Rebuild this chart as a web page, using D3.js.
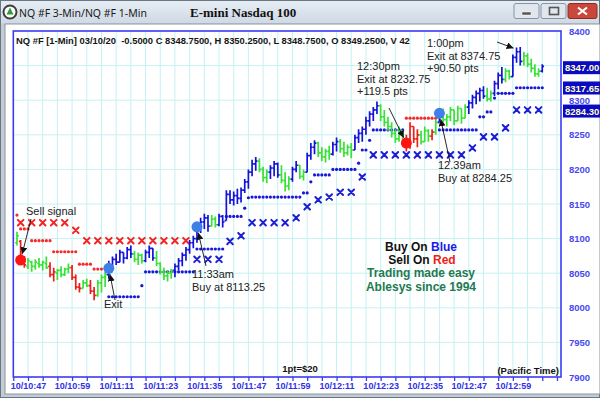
<!DOCTYPE html>
<html>
<head>
<meta charset="utf-8">
<script src="https://cdn.jsdelivr.net/npm/d3@7"></script>
<style>
  body { margin: 0; background: #fff; }
  svg { display: block; font-family: "Liberation Sans", Arial, sans-serif; }
</style>
</head>
<body>
<svg id="chart" width="600" height="398"></svg>
<script>
// ---- data ----
var firstBarMinute = 10 * 60 + 44;   // 1-min bars, first one at 10:44

// [open, high, low, close] per 1-min bar
var bars = [
  [8094,8110,8090,8104],[8096,8098,8068,8072],[8072,8075,8058,8062],[8060,8072,8056,8068],
  [8066,8068,8052,8060],[8060,8070,8055,8066],[8064,8072,8058,8062],[8062,8068,8054,8066],
  [8064,8074,8056,8058],[8060,8066,8044,8048],[8048,8058,8038,8052],[8050,8056,8040,8054],
  [8054,8060,8044,8048],[8048,8058,8046,8056],[8056,8064,8050,8058],[8058,8062,8040,8044],
  [8044,8048,8026,8030],[8030,8036,8022,8028],[8028,8040,8028,8036],[8036,8042,8030,8032],
  [8032,8040,8020,8024],[8024,8030,8011,8018],[8018,8040,8016,8036],[8036,8048,8022,8044],
  [8044,8052,8030,8048],[8048,8068,8042,8060],[8060,8074,8056,8070],[8070,8078,8062,8066],
  [8066,8084,8066,8080],[8080,8080,8064,8072],[8072,8088,8070,8084],[8084,8090,8072,8078],
  [8078,8082,8066,8070],[8070,8080,8062,8076],[8076,8078,8064,8068],[8068,8084,8066,8080],
  [8080,8090,8072,8086],[8086,8086,8068,8072],[8072,8082,8060,8064],[8064,8066,8048,8052],
  [8052,8058,8040,8046],[8046,8054,8038,8050],[8050,8056,8042,8054],[8054,8064,8044,8060],
  [8060,8072,8054,8068],[8068,8080,8060,8076],[8076,8088,8068,8084],[8084,8098,8078,8094],
  [8094,8104,8086,8100],[8100,8118,8094,8114],[8114,8130,8108,8124],[8124,8136,8114,8130],
  [8130,8134,8110,8118],[8118,8134,8118,8128],[8128,8132,8116,8120],[8120,8136,8118,8132],
  [8132,8134,8116,8124],[8126,8170,8126,8164],[8164,8170,8150,8156],[8156,8168,8148,8162],
  [8162,8172,8150,8158],[8158,8174,8152,8170],[8170,8186,8166,8182],[8182,8200,8172,8196],
  [8196,8214,8190,8208],[8208,8218,8198,8212],[8212,8216,8196,8200],[8200,8204,8182,8188],
  [8188,8200,8180,8196],[8196,8206,8186,8202],[8202,8212,8190,8208],[8208,8210,8188,8192],
  [8192,8206,8180,8184],[8184,8196,8168,8176],[8176,8190,8170,8186],[8186,8204,8182,8200],
  [8200,8212,8196,8206],[8206,8206,8186,8190],[8190,8200,8184,8196],[8196,8224,8196,8220],
  [8220,8238,8214,8232],[8232,8242,8222,8238],[8238,8240,8218,8224],[8224,8232,8212,8218],
  [8218,8230,8210,8226],[8226,8234,8214,8222],[8222,8240,8220,8236],[8236,8246,8226,8240],
  [8240,8244,8224,8230],[8230,8240,8218,8224],[8224,8236,8220,8232],[8232,8238,8216,8228],
  [8228,8250,8228,8246],[8246,8258,8238,8252],[8252,8262,8240,8258],[8258,8276,8250,8270],
  [8270,8284,8262,8280],[8280,8290,8270,8286],[8286,8298,8280,8292],[8292,8294,8270,8276],
  [8276,8286,8262,8268],[8268,8276,8256,8262],[8262,8268,8246,8252],[8252,8258,8238,8244],
  [8244,8262,8240,8256],[8256,8256,8236,8240],[8240,8250,8226,8234],[8234,8268,8230,8262],
  [8262,8262,8238,8244],[8244,8258,8232,8250],[8250,8256,8236,8240],[8240,8262,8240,8256],
  [8256,8258,8240,8248],[8248,8258,8242,8254],[8254,8272,8250,8268],[8268,8286,8268,8282],
  [8282,8288,8268,8272],[8272,8280,8262,8276],[8276,8290,8270,8286],[8286,8286,8264,8270],
  [8270,8292,8270,8288],[8288,8288,8266,8274],[8274,8294,8274,8290],[8290,8300,8280,8296],
  [8296,8308,8288,8304],[8304,8314,8294,8310],[8310,8318,8298,8314],[8314,8320,8302,8306],
  [8306,8318,8298,8302],[8302,8314,8298,8310],[8310,8328,8306,8324],[8324,8340,8316,8336],
  [8336,8348,8324,8330],[8330,8346,8326,8342],[8342,8344,8330,8334],[8334,8366,8334,8362],
  [8362,8376,8354,8370],[8370,8377,8350,8356],[8356,8370,8350,8364],[8364,8368,8348,8352],
  [8352,8360,8340,8346],[8346,8352,8334,8338],[8338,8346,8334,8342],[8342,8352,8340,8349]
];
// B = blue, G = green, R = red, one letter per bar
var barColors = ("GRR" + "GGGGGG" + "RR" + "GGGG" + "RRR" + "GG" + "RR" + "GGG" + "BBBBBBB" +
  "GGG" + "BBB" + "GGGGG" + "BBBBBBBBBB" + "GG" + "BBBBBBBBBBB" + "GGG" + "BBB" + "GGG" + "BB" +
  "GG" + "BBB" + "GGGG" + "BB" + "GGGG" + "BBBBBBB" + "GGGGGGG" + "RRRR" + "GGG" + "R" + "G" + "B" +
  "GGGGGGG" + "BBBBB" + "GG" + "BBB" + "GG" + "BBB" + "GGGGG" + "B").split("");

// 1-min trailing stops: [first bar, last bar, price]
var redDotRuns = [[0,0,8134],[1,3,8114],[4,9,8097],[10,16,8081],[17,20,8063],[21,23,8056],[106,114,8274]];
var blueDotRuns = [[25,33,8016],[34,34,8032],[35,48,8052],[49,56,8085],[57,61,8132],[62,62,8144],
  [63,63,8159],[64,77,8160],[78,79,8166],[80,80,8182],[81,85,8192],[86,92,8200],[93,93,8209],
  [94,95,8228],[96,96,8242],[97,105,8257],[115,125,8257],[126,127,8276],[128,129,8283],
  [130,130,8303],[131,135,8310],[136,143,8318]];

// 3-min stops (X marks); first X on bar 1, then every 3rd bar
var redXStops = [8123,8123,8123,8123,8123,8112,8097,8097,8097,8097,8097,8097,8097,8097,8097,8097];
var blueXStops = [8070,8070,8070,8096,8104,8123,8123,8123,8123,8130,8146,8156,8160,8167,8167,8189,
  8221,8221,8221,8221,8221,8221,8221,8221,8221,8231,8247,8247,8260,8286,8286,8286];

// signal dots
var signalBars   = [1, 25, 49, 106, 115];
var signalPrices = [8069, 8057, 8117, 8238, 8281];
var signalKinds  = ["sell", "buy", "buy", "sell", "buy"];

var lastValues = ["8347.00", "8317.65", "8284.30"];
var priceTicks = [7900, 7950, 8000, 8050, 8100, 8150, 8200, 8250, 8300, 8350, 8400];
var hiddenTicks = [8350];   // covered by the last-value box

// ---- layout ----
var svg = d3.select("#chart");
var W = 600, H = 398;
var plot = { left: 13.3, top: 31, right: 561, bottom: 377 };

var x = d3.scaleLinear().domain([10 * 60 + 43, 10 * 60 + 43 + 149.1]).range([plot.left, plot.right]);
var y = d3.scaleLinear().domain([7900, 8400]).range([plot.bottom, plot.top]);
var barX = function(i) { return x(firstBarMinute + i); };

var BLUE = "#1212dc", GREEN = "#36e236", RED = "#f01c1c";
var colorOf = { B: BLUE, G: GREEN, R: RED };

var defs = svg.append("defs");
var grad = defs.append("linearGradient").attr("id", "tb").attr("x1", 0).attr("y1", 0).attr("x2", 0).attr("y2", 1);
grad.append("stop").attr("offset", "0%").attr("stop-color", "#e6edf4");
grad.append("stop").attr("offset", "100%").attr("stop-color", "#cfd9e4");
defs.append("clipPath").attr("id", "plotclip").append("rect")
  .attr("x", plot.left).attr("y", plot.top)
  .attr("width", plot.right - plot.left).attr("height", plot.bottom - plot.top);
defs.append("marker").attr("id", "arrow")
  .attr("viewBox", "0 0 8 8").attr("refX", 8).attr("refY", 4)
  .attr("markerWidth", 7).attr("markerHeight", 7).attr("markerUnits", "userSpaceOnUse")
  .attr("orient", "auto")
  .append("path").attr("d", "M0,0 L8,4 L0,8 z").attr("fill", "#111");

// window frame
svg.append("rect").attr("width", W).attr("height", H).attr("fill", "#c3ccd6");
svg.append("rect").attr("x", 0.5).attr("y", 0.5).attr("width", W - 1).attr("height", 23)
  .attr("fill", "url(#tb)");
svg.append("rect").attr("x", 0.5).attr("y", 0.5).attr("width", W - 1).attr("height", H - 1)
  .attr("fill", "none").attr("stroke", "#6a7682");
svg.append("rect").attr("x", 5).attr("y", 24).attr("width", W - 5).attr("height", 370)
  .attr("fill", "#fff").attr("stroke", "#8b959f");

// window icon + title
svg.append("circle").attr("cx", 10).attr("cy", 12).attr("r", 6.5).attr("fill", "#fff")
  .attr("stroke", "#3d3d3d").attr("stroke-width", 2);
svg.append("path").attr("d", "M10,7.5 L13.5,14.5 L6.5,14.5 Z").attr("fill", "#2f9a3c");
svg.append("text").attr("x", 19).attr("y", 16.5).attr("font-family", "'Noto Sans', sans-serif")
  .attr("font-size", 10.5).attr("fill", "#1a1a1a").text("NQ #F 3-Min/NQ #F 1-Min");
svg.append("text").attr("x", 190).attr("y", 17).attr("font-family", "'Liberation Serif', serif")
  .attr("font-weight", "bold").attr("font-size", 13).attr("fill", "#111").text("E-mini Nasdaq 100");

// window buttons
[514, 541].forEach(function(bx) {
  svg.append("rect").attr("x", bx).attr("y", 3.5).attr("width", 25).attr("height", 15).attr("rx", 2)
    .attr("fill", "#dfe6ee").attr("stroke", "#8593a3");
});
svg.append("rect").attr("x", 522).attr("y", 12).attr("width", 9).attr("height", 3).attr("fill", "#555")
  .attr("stroke", "#fff").attr("stroke-width", 0.5);
svg.append("rect").attr("x", 549.5).attr("y", 7.5).attr("width", 9).attr("height", 7).attr("fill", "none")
  .attr("stroke", "#555").attr("stroke-width", 1.6);
svg.append("rect").attr("x", 568).attr("y", 3.5).attr("width", 29).attr("height", 15).attr("rx", 2)
  .attr("fill", "#c9483b").attr("stroke", "#8e2c22");
svg.append("path").attr("d", "M578,7.5 L587,14.5 M587,7.5 L578,14.5")
  .attr("stroke", "#fff").attr("stroke-width", 2.2);

// ---- plot ----
var gridMinutes = d3.range(10 * 60 + 47, x.domain()[1], 4);
var grid = svg.append("g").attr("stroke", "#c4f2f2").attr("stroke-width", 1);
grid.selectAll("line.v").data(gridMinutes).enter().append("line")
  .attr("x1", function(d) { return x(d); }).attr("x2", function(d) { return x(d); })
  .attr("y1", plot.top).attr("y2", plot.bottom);
grid.selectAll("line.h").data(priceTicks.slice(1, -1)).enter().append("line")
  .attr("x1", plot.left).attr("x2", plot.right)
  .attr("y1", function(d) { return y(d); }).attr("y2", function(d) { return y(d); });

svg.append("rect").attr("x", plot.left).attr("y", plot.top)
  .attr("width", plot.right - plot.left).attr("height", plot.bottom - plot.top)
  .attr("fill", "none").attr("stroke", "#3a3af5").attr("stroke-width", 1.6);

var inner = svg.append("g").attr("clip-path", "url(#plotclip)");

// trailing-stop dots
function expandRuns(runs) {
  var pts = [];
  runs.forEach(function(r) { for (var i = r[0]; i <= r[1]; i++) pts.push([i, r[2]]); });
  return pts;
}
inner.append("g").selectAll("circle").data(expandRuns(redDotRuns)).enter().append("circle")
  .attr("cx", function(d) { return barX(d[0]); }).attr("cy", function(d) { return y(d[1]); })
  .attr("r", 1.6).attr("fill", "#f52a2a");
inner.append("g").selectAll("circle").data(expandRuns(blueDotRuns)).enter().append("circle")
  .attr("cx", function(d) { return barX(d[0]); }).attr("cy", function(d) { return y(d[1]); })
  .attr("r", 1.6).attr("fill", "#1818d8");

// 3-min X stops
function drawX(values, firstK, color) {
  inner.append("g").attr("stroke", color).attr("stroke-width", 2).attr("stroke-linecap", "round")
    .selectAll("path").data(values).enter().append("path")
    .attr("d", function(d, k) {
      var cx = barX(1 + 3 * (firstK + k)), cy = y(d), s = 2.8;
      return "M" + (cx - s) + "," + (cy - s) + "L" + (cx + s) + "," + (cy + s) +
             "M" + (cx + s) + "," + (cy - s) + "L" + (cx - s) + "," + (cy + s);
    });
}
drawX(redXStops, 0, "#f22424");
drawX(blueXStops, redXStops.length, "#1e1ed2");

// OHLC bars
inner.append("g").attr("stroke-width", 1.7).selectAll("path").data(bars).enter().append("path")
  .attr("stroke", function(d, i) { return colorOf[barColors[i]]; })
  .attr("fill", "none")
  .attr("d", function(d, i) {
    var cx = barX(i);
    return "M" + cx + "," + y(d[1]) + "V" + y(d[2]) +
           "M" + (cx - 1.8) + "," + y(d[0]) + "H" + cx +
           "M" + cx + "," + y(d[3]) + "H" + (cx + 1.8);
  });

// signal dots
inner.append("g").selectAll("circle").data(signalBars).enter().append("circle")
  .attr("cx", function(d) { return barX(d); })
  .attr("cy", function(d, i) { return y(signalPrices[i]); })
  .attr("r", 5.5)
  .attr("fill", function(d, i) { return signalKinds[i] === "sell" ? "#ff1414" : "#3f80e6"; });

// annotations
var notes = [
  { lines: ["Sell signal"], x: 26, y: 215, from: [31, 219], sig: 0 },
  { lines: ["Exit"], x: 104, y: 308, from: [115, 300], sig: 1 },
  { lines: ["11:33am", "Buy at 8113.25"], x: 192, y: 278, from: [206, 266], sig: 2 },
  { lines: ["12:30pm", "Exit at 8232.75", "+119.5 pts"], x: 357, y: 70, from: [389, 108], sig: 3 },
  { lines: ["12.39am", "Buy at 8284.25"], x: 438, y: 169, from: [450, 162], sig: 4 },
  { lines: ["1:00pm", "Exit at 8374.75", "+90.50 pts"], x: 427, y: 47, from: [497, 42], bar: 136, price: 8374.75 }
];
var noteG = svg.append("g");
notes.forEach(function(n) {
  n.lines.forEach(function(t, k) {
    noteG.append("text").attr("x", n.x).attr("y", n.y + k * 12.6)
      .attr("font-size", 11).attr("fill", "#222").text(t);
  });
  var tx, ty, r;
  if (n.sig !== undefined) {
    tx = barX(signalBars[n.sig]); ty = y(signalPrices[n.sig]); r = 6;
  } else {
    tx = barX(n.bar) - 2; ty = y(n.price); r = 1;
  }
  var dx = tx - n.from[0], dy = ty - n.from[1], len = Math.sqrt(dx * dx + dy * dy);
  noteG.append("line").attr("x1", n.from[0]).attr("y1", n.from[1])
    .attr("x2", tx - dx / len * r).attr("y2", ty - dy / len * r)
    .attr("stroke", "#111").attr("stroke-width", 0.9).attr("marker-end", "url(#arrow)");
});

// legend
var leg = svg.append("g").attr("font-weight", "bold").attr("font-size", 12).attr("text-anchor", "middle");
var t1 = leg.append("text").attr("x", 421).attr("y", 251);
t1.append("tspan").attr("fill", "#111").text("Buy On ");
t1.append("tspan").attr("fill", "#1a1ae6").text("Blue");
var t2 = leg.append("text").attr("x", 422).attr("y", 264);
t2.append("tspan").attr("fill", "#111").text("Sell On ");
t2.append("tspan").attr("fill", "#f01c1c").text("Red");
leg.append("text").attr("x", 421).attr("y", 277).attr("fill", "#1d7a52").text("Trading made easy");
leg.append("text").attr("x", 421).attr("y", 290.5).attr("fill", "#1d7a52").text("Ablesys since 1994");

// axes
var tickMinutes = d3.range(10 * 60 + 43, x.domain()[1], 4);
var lastLabel = 12 * 60 + 59;
var fmt = function(m) {
  if ((m - (10 * 60 + 47)) % 12 !== 0 || m > lastLabel) return "";
  var h = Math.floor(m / 60), mm = m % 60;
  return "10/" + h + ":" + (mm < 10 ? "0" : "") + mm;
};
var xa = svg.append("g").attr("transform", "translate(0," + plot.bottom + ")")
  .call(d3.axisBottom(x).tickValues(tickMinutes).tickFormat(fmt).tickSize(4).tickSizeOuter(0).tickPadding(2));
xa.select(".domain").remove();
xa.selectAll("line").attr("stroke", "#3a3af5").attr("stroke-width", 1.3);
xa.selectAll("text").attr("fill", "#2f2fe8").attr("font-weight", "bold").attr("font-size", 9)
  .attr("font-family", "'Liberation Sans', Arial, sans-serif");

var ya = svg.append("g").attr("transform", "translate(" + plot.right + ",0)")
  .call(d3.axisRight(y)
    .tickValues(priceTicks.filter(function(d) { return hiddenTicks.indexOf(d) < 0; }))
    .tickFormat(d3.format("d")).tickSize(0).tickPadding(8));
ya.select(".domain").remove();
ya.selectAll("text").attr("fill", "#4848f0").attr("font-weight", "bold").attr("font-size", 9.5)
  .attr("font-family", "'Liberation Sans', Arial, sans-serif");

// last value boxes
var boxes = svg.append("g");
lastValues.forEach(function(v) {
  var cy = y(+v);
  boxes.append("rect").attr("x", 563).attr("y", cy - 6.5).attr("width", 40).attr("height", 13)
    .attr("fill", "#0a0ac4");
  boxes.append("text").attr("x", 565).attr("y", cy + 3.6).attr("font-weight", "bold")
    .attr("font-size", 9.5).attr("fill", "#ffffc8").text(v);
});

// header + footer texts
svg.append("text").attr("x", 16).attr("y", 44).attr("font-weight", "bold").attr("font-size", 9.4)
  .attr("fill", "#151515").attr("xml:space", "preserve")
  .text("NQ #F [1-Min] 03/10/20  -0.5000 C 8348.7500, H 8350.2500, L 8348.7500, O 8349.2500, V 42");
svg.append("text").attr("x", 300).attr("y", 371.5).attr("text-anchor", "middle").attr("font-weight", "bold")
  .attr("font-size", 9.5).attr("fill", "#111").text("1pt=$20");
svg.append("text").attr("x", 559).attr("y", 374).attr("text-anchor", "end").attr("font-weight", "bold")
  .attr("font-size", 9.5).attr("fill", "#111").text("(Pacific Time)");
</script>
</body>
</html>
